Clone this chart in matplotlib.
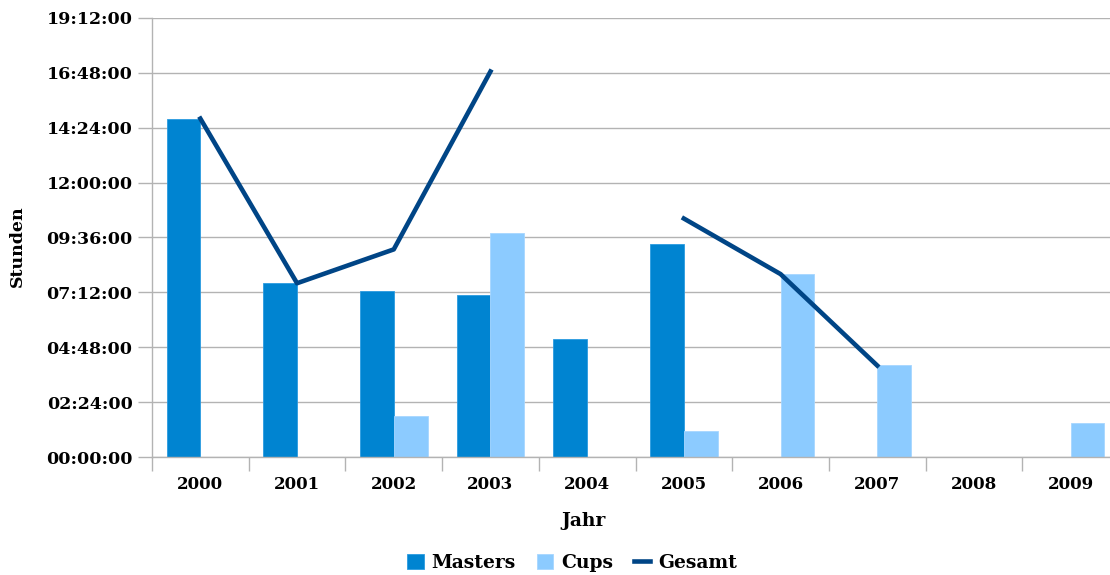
import numpy as np
import matplotlib.pyplot as plt
from matplotlib.ticker import FuncFormatter, FixedLocator

# Daten (Stunden)
jahre = ['2000', '2001', '2002', '2003', '2004', '2005', '2006', '2007', '2008', '2009']
masters = [14.8, 7.6, 7.27, 7.1, 5.18, 9.31, 0, 0, 0, 0]
cups = [0, 0, 1.78, 9.79, 0, 1.13, 8.02, 4.01, 0, 1.48]
gesamt = [14.8, 7.6, 9.08, 16.86, np.nan, 10.43, 8.0, 4.0, np.nan, np.nan]

plt.rcParams['font.family'] = ['DejaVu Serif']
plt.rcParams['font.weight'] = 'bold'

fig = plt.figure(figsize=(11.1, 5.75), dpi=100)
ax = fig.add_axes([152/1110, 1-457/575, 967/1110, 439/575])

x = np.arange(len(jahre))
w = 0.35
b1 = ax.bar(x - w/2, masters, w, color='#0084d1', edgecolor='#2b9be0', linewidth=0.6, label='Masters', zorder=2)
b2 = ax.bar(x + w/2, cups, w, color='#8ccbff', edgecolor='#a6d6ff', linewidth=0.6, label='Cups', zorder=2)
l1, = ax.plot(x, gesamt, color='#004586', linewidth=3.3, label='Gesamt', zorder=3)

ax.set_xlim(-0.5, len(jahre) - 0.5)
ax.set_ylim(0, 19.2)

# y-Achse als Uhrzeit
def fmt(v, pos):
    m = int(round(v * 60))
    return '%02d:%02d:00' % (m // 60, m % 60)
ax.yaxis.set_major_locator(FixedLocator(np.arange(0, 19.3, 2.4)))
ax.yaxis.set_major_formatter(FuncFormatter(fmt))

ax.set_xticks(x)
ax.set_xticklabels(jahre)
ax.set_xticks(np.arange(-0.5, len(jahre)), minor=True)
ax.tick_params(axis='x', which='major', length=0, pad=14, labelsize=12)
ax.tick_params(axis='x', which='minor', length=10, color='#b3b3b3', width=1)
ax.tick_params(axis='y', length=10, color='#b3b3b3', width=1, pad=4, labelsize=12.5)

ax.grid(axis='y', color='#b3b3b3', linewidth=1, zorder=0)
ax.set_axisbelow(True)
for s in ['top', 'right']:
    ax.spines[s].set_visible(False)
for s in ['left', 'bottom']:
    ax.spines[s].set_color('#b3b3b3')
    ax.spines[s].set_linewidth(1)

fig.text(17/1110, 1-246/575, 'Stunden', rotation=90, ha='center', va='center', fontsize=12.5)
fig.text(584/1110, 1-521/575, 'Jahr', ha='center', va='center', fontsize=13.5)

fig.legend([b1, b2, l1], ['Masters', 'Cups', 'Gesamt'], loc='center',
           bbox_to_anchor=(572/1110, 1-563/575), ncol=3, frameon=False,
           fontsize=13.5, handlelength=0.9, handleheight=0.9, handletextpad=0.4, columnspacing=1.1)

fig.savefig('out.png', dpi=100)
